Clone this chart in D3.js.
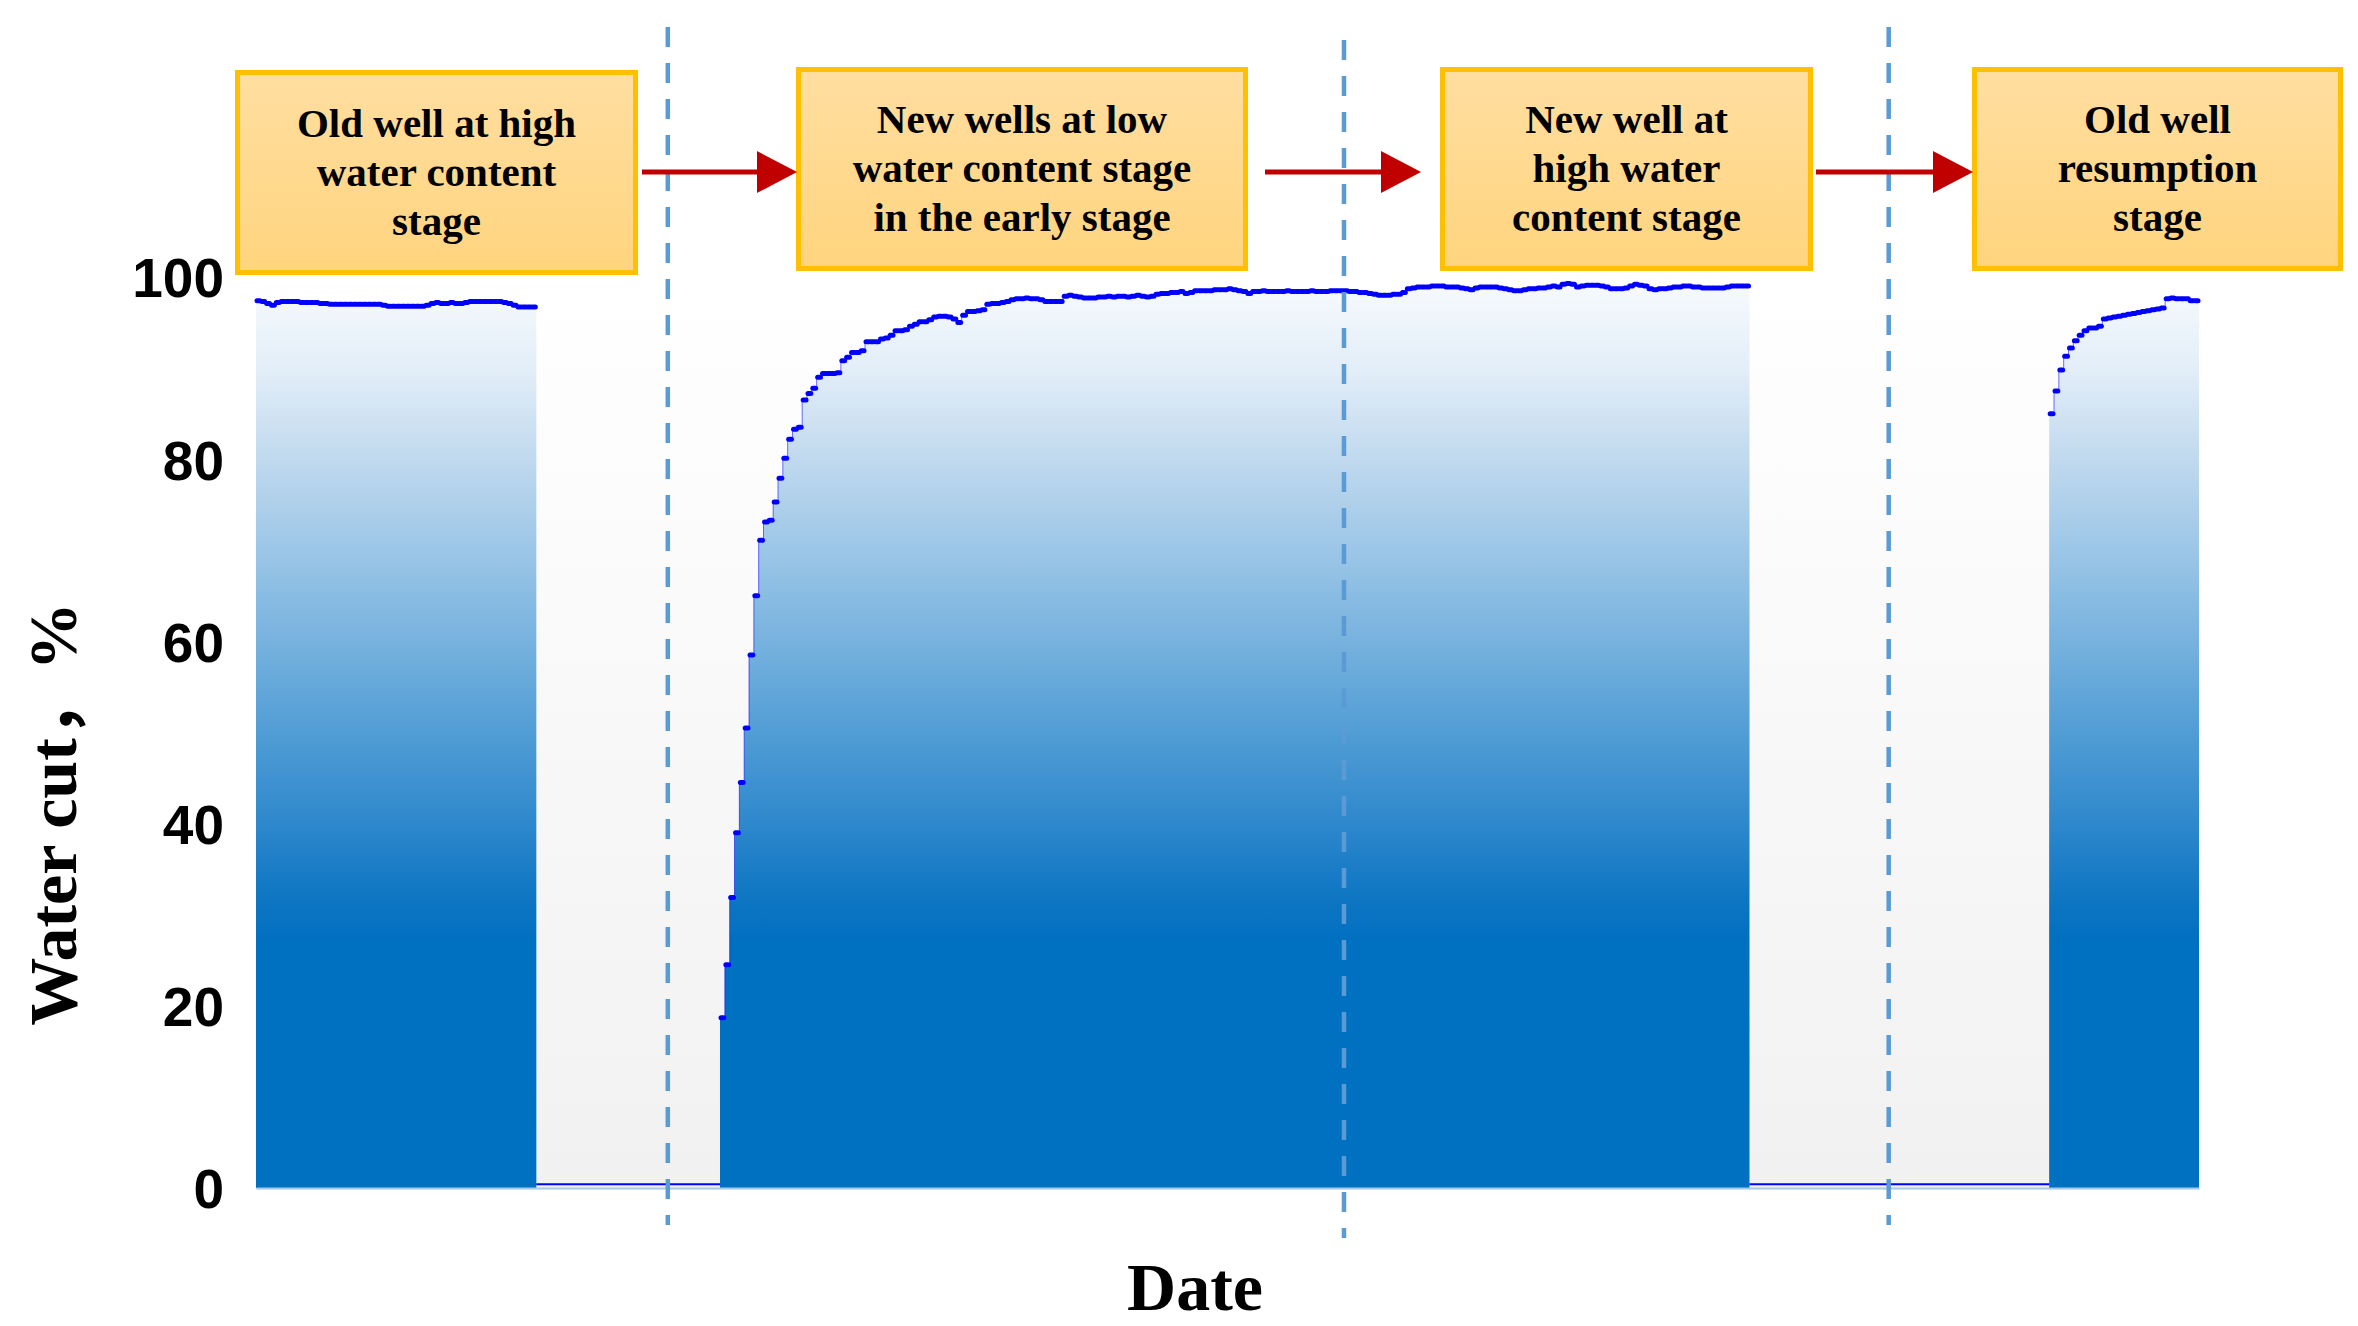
<!DOCTYPE html>
<html>
<head>
<meta charset="utf-8">
<title>Water cut by production stage</title>
<script src="https://cdn.jsdelivr.net/npm/d3@7"></script>
<style>
  body { margin: 0; background: #fff; }
  .tick-label { font-family: "Liberation Sans", Arial, sans-serif; font-weight: bold; font-size: 55px; fill: #000; }
  .serif { font-family: "Liberation Serif", "Times New Roman", "Noto Sans CJK SC", serif; font-weight: bold; fill: #000; }
</style>
</head>
<body>
<div class="chart"></div>
<script>

// ---- data: x is a month index along the date axis, y is water cut in % ----
const monthCount = 402;

const oldWellStart = 0;
const oldWellCut = [
  97.4, 97.3, 97.1, 96.9, 97.2, 97.3, 97.3, 97.3, 97.3, 97.2,
  97.2, 97.2, 97.2, 97.1, 97.1, 97.0, 97.0, 97.0, 97.0, 97.0,
  97.0, 97.0, 97.0, 97.0, 97.0, 97.0, 96.9, 96.8, 96.8, 96.8,
  96.8, 96.8, 96.8, 96.8, 96.8, 96.9, 97.1, 97.2, 97.1, 97.1,
  97.2, 97.1, 97.1, 97.2, 97.3, 97.3, 97.3, 97.3, 97.3, 97.3,
  97.3, 97.2, 97.1, 96.9, 96.7, 96.7, 96.7, 96.7
];

const newWellStart = 96;
const newWellCut = [
  18.7, 24.5, 31.9, 39.0, 44.5, 50.5, 58.5, 65.0, 71.1, 73.1,
  73.3, 75.3, 77.9, 80.1, 82.2, 83.3, 83.5, 86.5, 87.2, 87.8,
  89.0, 89.4, 89.4, 89.4, 89.5, 90.8, 91.2, 91.7, 91.7, 91.9,
  92.9, 92.9, 92.9, 93.2, 93.3, 93.6, 94.1, 94.1, 94.2, 94.6,
  94.8, 95.1, 95.1, 95.3, 95.6, 95.7, 95.7, 95.6, 95.4, 95.0,
  95.8, 96.2, 96.2, 96.3, 96.4, 97.0, 97.1, 97.1, 97.2, 97.3,
  97.5, 97.6, 97.6, 97.7, 97.6, 97.6, 97.5, 97.3, 97.3, 97.3,
  97.3, 97.9, 98.0, 97.9, 97.8, 97.7, 97.7, 97.7, 97.8, 97.8,
  97.9, 97.8, 97.9, 97.9, 97.8, 97.9, 98.0, 97.9, 97.8, 97.9,
  98.1, 98.2, 98.2, 98.3, 98.3, 98.4, 98.2, 98.3, 98.5, 98.5,
  98.5, 98.5, 98.6, 98.6, 98.6, 98.7, 98.6, 98.5, 98.4, 98.2,
  98.4, 98.4, 98.5, 98.4, 98.4, 98.4, 98.4, 98.5, 98.4, 98.4,
  98.4, 98.4, 98.5, 98.4, 98.4, 98.4, 98.5, 98.5, 98.5, 98.5,
  98.4, 98.4, 98.3, 98.3, 98.2, 98.1, 98.0, 98.0, 98.0, 98.1,
  98.1, 98.3, 98.7, 98.8, 98.9, 98.9, 98.9, 99.0, 99.0, 99.0,
  98.9, 98.9, 98.9, 98.8, 98.7, 98.6, 98.8, 98.9, 98.9, 98.9,
  98.9, 98.8, 98.7, 98.6, 98.5, 98.5, 98.6, 98.7, 98.7, 98.8,
  98.8, 98.9, 99.0, 98.9, 99.2, 99.3, 99.2, 98.9, 99.0, 99.1,
  99.1, 99.1, 99.0, 98.9, 98.7, 98.7, 98.7, 98.8, 99.0, 99.2,
  99.1, 99.0, 98.7, 98.6, 98.7, 98.7, 98.8, 98.9, 98.9, 99.0,
  99.0, 98.9, 98.9, 98.8, 98.8, 98.8, 98.8, 98.8, 98.9, 99.0,
  99.0, 99.0, 99.0
];

const resumedStart = 371;
const resumedCut = [
  85.0, 87.5, 89.8, 91.3, 92.2, 93.0, 93.6, 94.1, 94.4, 94.4,
  94.6, 95.4, 95.5, 95.6, 95.7, 95.8, 95.9, 96.0, 96.1, 96.2,
  96.3, 96.4, 96.5, 96.6, 97.6, 97.7, 97.6, 97.6, 97.6, 97.4,
  97.4
];

const shutInCut = 0.4;                      // wells shut in between stages
const stageBoundaries = [85.2, 225.1, 337.8];  // month index of stage changes
const stageLabels = [
  ["Old well at high", "water content", "stage"],
  ["New wells at low", "water content stage", "in the early stage"],
  ["New well at", "high water", "content stage"],
  ["Old well", "resumption", "stage"]
];
const yTicks = [0, 20, 40, 60, 80, 100];

// ---- layout ----
const width = 2358, height = 1326;
const plot = {left: 256, right: 2199, top: 277, bottom: 1188};

const svg = d3.select(".chart").append("svg")
    .attr("width", width)
    .attr("height", height);

const xScale = d3.scaleLinear().domain([0, monthCount]).range([plot.left, plot.right]);
const yScale = d3.scaleLinear().domain([0, 100]).range([plot.bottom, plot.top]);

const defs = svg.append("defs");

// blue fill that fades to white near the top
const areaGrad = defs.append("linearGradient")
    .attr("id", "areaFill")
    .attr("gradientUnits", "userSpaceOnUse")
    .attr("x1", 0).attr("x2", 0)
    .attr("y1", yScale(100)).attr("y2", yScale(0));
[[100, "#f8fbfe"], [90, "#e3eef8"], [80, "#c0d9ee"], [70, "#9cc6e7"], [60, "#77b2de"],
 [50, "#519dd5"], [40, "#2e88cc"], [32, "#0f76c3"], [27, "#0070c0"], [0, "#0070c0"]]
  .forEach(([v, c]) => areaGrad.append("stop").attr("offset", (100 - v) / 100).attr("stop-color", c));

const bgGrad = defs.append("linearGradient")
    .attr("id", "bgFill").attr("x1", 0).attr("x2", 0).attr("y1", 0).attr("y2", 1);
bgGrad.append("stop").attr("offset", 0).attr("stop-color", "#ffffff");
bgGrad.append("stop").attr("offset", 1).attr("stop-color", "#f1f1f1");

const boxGrad = defs.append("linearGradient")
    .attr("id", "boxFill").attr("x1", 0).attr("x2", 0).attr("y1", 0).attr("y2", 1);
boxGrad.append("stop").attr("offset", 0).attr("stop-color", "#ffdea0");
boxGrad.append("stop").attr("offset", 1).attr("stop-color", "#ffd47e");

// plot background
svg.append("rect")
    .attr("x", plot.left).attr("y", plot.top)
    .attr("width", plot.right - plot.left).attr("height", plot.bottom - plot.top + 2)
    .attr("fill", "url(#bgFill)");

// stages -> step points (last value held until the end of the stage)
const stages = [
  {start: oldWellStart, values: oldWellCut},
  {start: newWellStart, values: newWellCut},
  {start: resumedStart, values: resumedCut}
].map(s => {
  const pts = s.values.map((v, i) => ({m: s.start + i, v}));
  pts.push({m: s.start + s.values.length, v: s.values[s.values.length - 1]});
  return pts;
});

const area = d3.area()
    .curve(d3.curveStepAfter)
    .x(d => xScale(d.m))
    .y0(yScale(0))
    .y1(d => yScale(d.v));

svg.selectAll(".area")
  .data(stages)
  .enter().append("path")
    .attr("class", "area")
    .attr("fill", "url(#areaFill)")
    .attr("d", area);

// x axis: plain light line, no ticks
const xAxisSVG = svg.append("g")
    .attr("transform", `translate(0, ${plot.bottom})`)
    .call(d3.axisBottom(xScale).tickValues([]).tickSizeOuter(0));
xAxisSVG.select(".domain").attr("stroke", "#a9cbe9").attr("stroke-width", 2);

// shut-in periods at ~0
const shutIn = [
  [oldWellStart + oldWellCut.length, newWellStart],
  [newWellStart + newWellCut.length, resumedStart]
];
svg.selectAll(".shutin")
  .data(shutIn)
  .enter().append("line")
    .attr("x1", d => xScale(d[0])).attr("x2", d => xScale(d[1]))
    .attr("y1", yScale(shutInCut)).attr("y2", yScale(shutInCut))
    .attr("stroke", "#0000ff").attr("stroke-width", 2);

// thin step outline + thick horizontal pieces on top of each stage
const stepLine = d3.line()
    .curve(d3.curveStepAfter)
    .x(d => xScale(d.m))
    .y(d => yScale(d.v));
svg.selectAll(".step")
  .data(stages)
  .enter().append("path")
    .attr("fill", "none")
    .attr("stroke", "#0000ff")
    .attr("stroke-opacity", 0.55)
    .attr("stroke-width", 1)
    .attr("d", stepLine);

const pieces = stages.flatMap(pts => pts.slice(0, -1).map((p, i) => ({m0: p.m, m1: pts[i + 1].m, v: p.v})));
svg.append("g").selectAll("line")
  .data(pieces)
  .enter().append("line")
    .attr("x1", d => xScale(d.m0) + 1).attr("x2", d => xScale(d.m1) - 1)
    .attr("y1", d => yScale(d.v)).attr("y2", d => yScale(d.v))
    .attr("stroke", "#0000ff")
    .attr("stroke-width", 5)
    .attr("stroke-linecap", "round");

// stage boundaries
const dashTop = [27, 40, 27];
svg.selectAll(".boundary")
  .data(stageBoundaries)
  .enter().append("line")
    .attr("x1", d => xScale(d)).attr("x2", d => xScale(d))
    .attr("y1", (d, i) => dashTop[i]).attr("y2", (d, i) => dashTop[i] + 1198)
    .attr("stroke", "#5b9bd5")
    .attr("stroke-width", 4.5)
    .attr("stroke-dasharray", "20,16");

// y axis, labels only
const yAxisSVG = svg.append("g")
    .attr("transform", `translate(${plot.left}, 0)`)
    .call(d3.axisLeft(yScale).tickValues(yTicks).tickSize(0).tickPadding(32));
yAxisSVG.select(".domain").remove();
yAxisSVG.attr("font-size", null).attr("font-family", null);
yAxisSVG.selectAll("text").attr("class", "tick-label").attr("dy", "0.36em");

// stage boxes and arrows
const boxes = [
  {x0: 235, x1: 638, y0: 70, y1: 275},
  {x0: 796, x1: 1248, y0: 67, y1: 271},
  {x0: 1440, x1: 1813, y0: 67, y1: 271},
  {x0: 1972, x1: 2343, y0: 67, y1: 271}
];
const boxG = svg.selectAll(".box")
  .data(boxes)
  .enter().append("g");
boxG.append("rect")
    .attr("x", d => d.x0 + 2.5).attr("y", d => d.y0 + 2.5)
    .attr("width", d => d.x1 - d.x0 - 5).attr("height", d => d.y1 - d.y0 - 5)
    .attr("fill", "url(#boxFill)")
    .attr("stroke", "#ffc000")
    .attr("stroke-width", 5);
boxG.each(function(d, i) {
  const cx = (d.x0 + d.x1) / 2, cy = (d.y0 + d.y1) / 2;
  d3.select(this).selectAll("text")
    .data(stageLabels[i])
    .enter().append("text")
      .attr("class", "serif")
      .attr("font-size", 41)
      .attr("text-anchor", "middle")
      .attr("x", cx)
      .attr("y", (t, k) => cy + 13 + (k - 1) * 49)
      .text(t => t);
});

const arrows = [
  {x0: 642, tip: 797},
  {x0: 1265, tip: 1421},
  {x0: 1816, tip: 1973}
];
const arrowY = 172;
svg.selectAll(".arrow-line")
  .data(arrows)
  .enter().append("line")
    .attr("x1", d => d.x0).attr("x2", d => d.tip - 38)
    .attr("y1", arrowY).attr("y2", arrowY)
    .attr("stroke", "#c00000").attr("stroke-width", 5);
svg.selectAll(".arrow-head")
  .data(arrows)
  .enter().append("path")
    .attr("fill", "#c00000")
    .attr("d", d => `M${d.tip - 40},${arrowY - 21}L${d.tip},${arrowY}L${d.tip - 40},${arrowY + 21}Z`);

// axis titles
svg.append("text")
    .attr("class", "serif")
    .attr("font-size", 68)
    .attr("text-anchor", "middle")
    .attr("transform", "translate(76, 814) rotate(-90)")
    .text("Water cut，%");

svg.append("text")
    .attr("class", "serif")
    .attr("font-size", 68)
    .attr("text-anchor", "middle")
    .attr("x", 1195).attr("y", 1310)
    .text("Date");

</script>
</body>
</html>
